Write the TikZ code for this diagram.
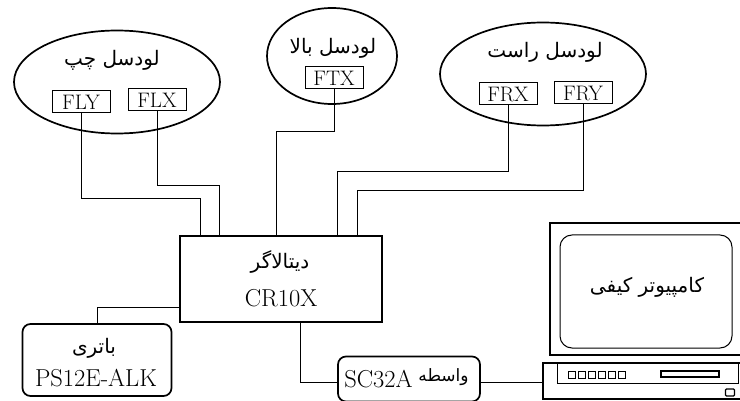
\documentclass[tikz,border=0pt]{standalone}
\usepackage{fontspec}
\newfontfamily\arabicfont[Script=Arabic]{DejaVu Sans}
\TeXXeTstate=1
\usetikzlibrary{shapes, positioning, calc}
\newcommand{\fa}[1]{{\arabicfont\beginR #1\endR}}

\begin{document}
\begin{tikzpicture}[
        x=1pt, y=-1pt,
        % node styles
        cell/.style={
            draw, ellipse, line width=1.7pt, minimum width=206pt, minimum height=103pt, inner sep=0pt
        },
        sensor/.style={
            draw, rectangle, line width=1pt, minimum width=58pt, minimum height=22pt,
            inner sep=0pt, font=\fontsize{21}{21}\selectfont
        },
        unit/.style={
            draw, rectangle, rounded corners=8pt, line width=1.7pt, inner sep=0pt
        },
        title/.style={font=\fontsize{20}{20}\selectfont, inner sep=0pt},
        model/.style={font=\fontsize{24.5}{24.5}\selectfont, inner sep=0pt},
        wire/.style={line width=1pt},
        heavy/.style={draw, line width=2.2pt},
        part/.style={draw, line width=1.2pt, inner sep=0pt}
    ]
    \useasboundingbox (0,0) rectangle (740,401);

    % 1. load cells
    \node (left) [cell] at (117,82) {};
    \node (lefttitle) [title] at (112,60) {\fa{لودسل چپ}};
    \node (fly) [sensor] at (81,102) {FLY};
    \node (flx) [sensor] at (157,100) {FLX};

    \node (top) [cell, minimum width=130pt, minimum height=96pt] at (332,56) {};
    \node (toptitle) [title] at (333,48) {\fa{لودسل بالا}};
    \node (ftx) [sensor] at (334,78) {FTX};

    \node (right) [cell] at (543,74) {};
    \node (righttitle) [title] at (545,52) {\fa{لودسل راست}};
    \node (frx) [sensor] at (508,94) {FRX};
    \node (fry) [sensor] at (583,93) {FRY};

    % 2. data logger and the units below it
    \node (logger) [heavy, minimum width=202pt, minimum height=86pt] at (281,279) {};
    \node (loggertitle) [title] at (280,262) {\fa{دیتالاگر}};
    \node (loggermodel) [model] at (281,298) {CR10X};

    \node (battery) [unit, minimum width=149pt, minimum height=72pt] at (97,360) {};
    \node (batterytitle) [title] at (94,348) {\fa{باتری}};
    \node (batterymodel) [model] at (96,378) {PS12E-ALK};

    \node (iface) [unit, minimum width=142pt, minimum height=45pt] at (409,379) {};
    \node (ifacemodel) [model, right=7pt of iface.west] {SC32A};
    \node (ifacetitle) [title, font=\fontsize{17}{17}\selectfont, left=12pt of iface.east, yshift=2pt] {\fa{واسطه}};

    % 3. computer
    \node (monitor) [heavy, minimum width=192pt, minimum height=132pt] at (646,289) {};
    \node (screen) [draw, rounded corners=12pt, line width=1pt, minimum width=172pt, minimum height=113pt] at (646,291.5) {};
    \node (screentitle) [title] at (647,287) {\fa{کامپیوتر کیفی}};
    \node (case) [draw, line width=1.3pt, minimum width=199pt, minimum height=36pt] at (642.5,381) {};
    \node (panel) [draw, line width=1pt, minimum width=181pt, minimum height=20pt] at (647.5,373) {};
    \foreach \x in {0,...,5}
        \node (led\x) [part, minimum width=6.5pt, minimum height=7.5pt] at (572+10*\x,375) {};
    \node (slot) [part, minimum width=58pt, minimum height=6pt] at (690,374) {};
    \node (button) [part, rounded corners=1pt, minimum width=9pt, minimum height=7pt] at (730,392.5) {};

    % 4. connectors
    \draw[wire] (fly.south) -- ++(0,85) -| ($(logger.north west)+(22,0)$);
    \draw[wire] (flx.south) -- ++(0,74) -| ($(logger.north west)+(41,0)$);
    \draw[wire] (ftx.south) -- ++(0,42) -| ($(logger.north west)+(98,0)$);
    \draw[wire] (frx.south) -- ++(0,66) -| ($(logger.north west)+(159,0)$);
    \draw[wire] (fry.south) -- ++(0,86) -| ($(logger.north west)+(179,0)$);
    \draw[wire] ($(logger.south west)+(0,-16)$) -| (battery.north);
    \draw[wire] ($(logger.south west)+(122,0)$) |- ($(iface.west)+(0,3.5)$);
    \draw[wire] ($(iface.east)+(0,3.5)$) -- ($(case.west)+(0,1.5)$);

    \end{tikzpicture}
\end{document}
